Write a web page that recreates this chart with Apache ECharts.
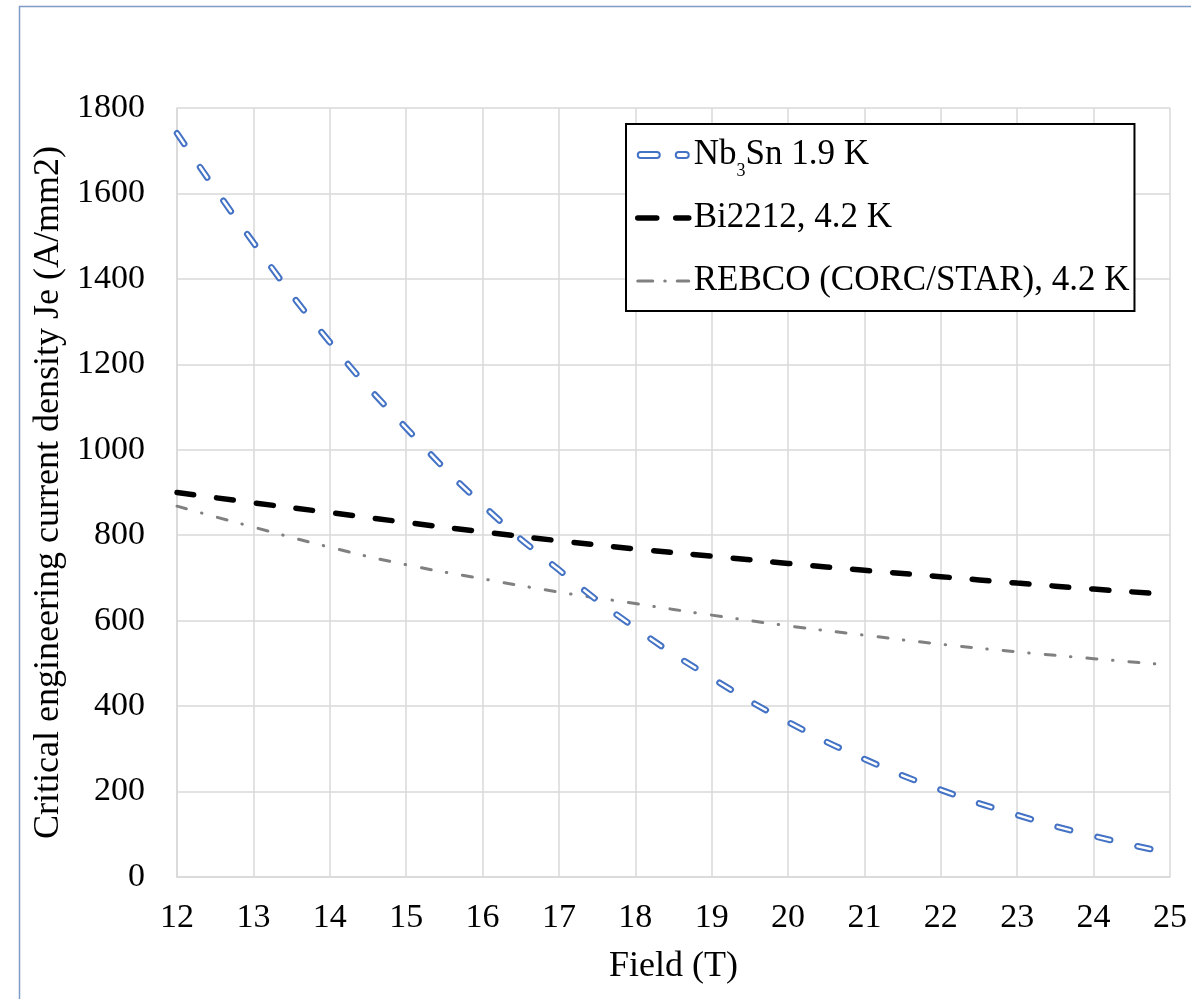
<!DOCTYPE html>
<html>
<head>
<meta charset="utf-8">
<title>Critical engineering current density vs field</title>
<script src="https://cdn.jsdelivr.net/npm/echarts@6/dist/echarts.min.js"></script>
<style>
  html, body { margin: 0; padding: 0; background: #ffffff; }
  #chart { width: 1191px; height: 999px; }
</style>
</head>
<body>
<div id="chart"></div>
<script>
// field in T
const field = [12, 13, 14, 15, 16, 17, 18, 19, 20, 21, 22, 23, 24, 25]
// Je in A/mm2
const nb3sn = [1741, 1485, 1252, 1051, 871, 719, 583, 466, 363, 276, 204, 145, 96, 56]
const bi2212 = [900, 876, 853, 830, 808, 787, 768, 751, 734, 718, 703, 688, 674, 661]
const rebco = [868, 819, 772, 731, 698, 667, 640, 613, 588, 566, 545, 527, 511, 496]

const seriesNames = ['Nb3Sn 1.9 K', 'Bi2212, 4.2 K', 'REBCO (CORC/STAR), 4.2 K']

const font = '"Liberation Serif", "Times New Roman", serif'
const blue = '#4472c4'
const gridColor = '#d9d9d9'

const pairs = (ys) => field.map((x, i) => [x, ys[i]])

// two hollow dashes for the Nb3Sn legend entry
const hollowDash = 'path://M3,0H19A3,3 0 0 1 19,6H3A3,3 0 0 1 3,0Z M41,0H48A3,3 0 0 1 48,6H41A3,3 0 0 1 41,0Z'

const chart = echarts.init(document.getElementById('chart'))

chart.setOption({
  animation: false,
  backgroundColor: '#ffffff',
  textStyle: { fontFamily: font },
  graphic: [
    {
      type: 'rect',
      left: 17,
      top: 4,
      shape: { width: 1300, height: 1100 },
      style: { fill: 'none', stroke: '#7f9cc8', lineWidth: 1.5 },
      silent: true,
    },
  ],
  grid: {
    left: 177,
    right: 21,
    top: 108,
    bottom: 122,
  },
  legend: {
    orient: 'vertical',
    left: 626,
    top: 124,
    padding: [6, 5, 5, 9],
    itemGap: 13,
    itemWidth: 51,
    itemHeight: 6,
    backgroundColor: '#ffffff',
    borderColor: '#000000',
    borderWidth: 2,
    borderRadius: 0,
    lineStyle: { width: 'inherit' },
    data: [
      {
        name: seriesNames[0],
        icon: hollowDash,
        itemStyle: { color: '#ffffff', borderColor: blue, borderWidth: 2 },
      },
      {
        name: seriesNames[1],
        icon: 'inherit',
        itemStyle: { opacity: 0 },
        lineStyle: { type: [19, 19] },
      },
      {
        name: seriesNames[2],
        icon: 'inherit',
        itemStyle: { opacity: 0 },
        lineStyle: { type: [15, 12, 0.5, 12] },
      },
    ],
    formatter: (name) =>
      name === seriesNames[0] ? '{t|Nb}{sub|3}{t|Sn 1.9 K}' : '{t|' + name + '}',
    textStyle: {
      fontFamily: font,
      fontSize: 35,
      color: '#000000',
      lineHeight: 50,
      rich: {
        t: { fontFamily: font, fontSize: 35, color: '#000000', lineHeight: 50 },
        sub: {
          fontFamily: font,
          fontSize: 18,
          color: '#000000',
          lineHeight: 18,
          verticalAlign: 'bottom',
        },
      },
    },
  },
  xAxis: {
    type: 'value',
    min: 12,
    max: 25,
    interval: 1,
    name: 'Field (T)',
    nameLocation: 'middle',
    nameGap: 72,
    nameTextStyle: { fontFamily: font, fontSize: 36, color: '#000000' },
    axisLine: { show: true, lineStyle: { color: gridColor, width: 1.5 } },
    axisTick: { show: false },
    axisLabel: { fontFamily: font, fontSize: 34, color: '#000000', margin: 24 },
    splitLine: { show: true, lineStyle: { color: gridColor, width: 1.5 } },
  },
  yAxis: {
    type: 'value',
    min: 0,
    max: 1800,
    interval: 200,
    name: 'Critical engineering current density Je (A/mm2)',
    nameLocation: 'middle',
    nameGap: 100,
    nameTextStyle: { fontFamily: font, fontSize: 36, color: '#000000' },
    axisLine: { show: true, lineStyle: { color: gridColor, width: 1.5 } },
    axisTick: { show: false },
    axisLabel: {
      fontFamily: font,
      fontSize: 34,
      color: '#000000',
      margin: 32,
      formatter: (value) => String(value),
    },
    splitLine: { show: true, lineStyle: { color: gridColor, width: 1.5 } },
  },
  series: [
    {
      name: seriesNames[1],
      type: 'line',
      data: pairs(bi2212),
      smooth: true,
      symbol: 'none',
      lineStyle: { color: '#000000', width: 5.5, type: [17, 23], cap: 'round' },
      itemStyle: { color: '#000000' },
    },
    {
      name: seriesNames[2],
      type: 'line',
      data: pairs(rebco),
      smooth: true,
      symbol: 'none',
      lineStyle: { color: '#808080', width: 3, type: [10, 15.5, 0.5, 16], cap: 'round' },
      itemStyle: { color: '#808080' },
    },
    {
      // blue outline of the hollow dashes
      name: seriesNames[0],
      type: 'line',
      data: pairs(nb3sn),
      smooth: true,
      symbol: 'none',
      lineStyle: { color: blue, width: 6.5, type: [13, 28], cap: 'round' },
      itemStyle: { color: blue },
    },
    {
      // white core of the same dashes
      name: seriesNames[0],
      type: 'line',
      data: pairs(nb3sn),
      smooth: true,
      symbol: 'none',
      lineStyle: { color: '#ffffff', width: 2.5, type: [13, 28], cap: 'round' },
      itemStyle: { color: blue },
      tooltip: { show: false },
    },
  ],
})
</script>
</body>
</html>
